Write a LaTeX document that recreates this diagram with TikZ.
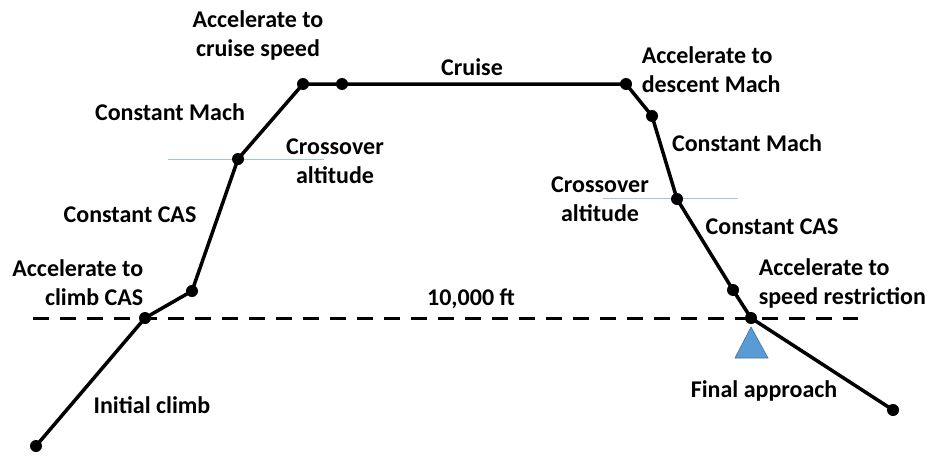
\documentclass[tikz,border=0pt]{standalone}
\usepackage{fontspec}
\setmainfont{Carlito}
\usetikzlibrary{calc}
\usetikzlibrary{arrows}
\definecolor{xoverblue}{HTML}{9DC3E6}
\definecolor{flagfill}{HTML}{5B9BD5}
\definecolor{flagedge}{HTML}{41719C}

\begin{document}
\begin{tikzpicture}[x=1pt,y=-1pt,line width=3.5pt]
        \tikzset{
            lbl/.style={font=\bfseries\fontsize{24}{29}\selectfont,align=center,inner sep=0pt},
            dot/.style={circle,fill=black,inner sep=0pt,minimum size=12pt},
        }
        \useasboundingbox (0,0) rectangle (934,455);
        % flight profile points
        \coordinate (start) at (36,446);
        \coordinate (tenk) at (145,318);
        \coordinate (climbcas) at (192,291);
        \coordinate (xclimb) at (238,159);
        \coordinate (toc) at (303,84);
        \coordinate (cruise) at (342,84);
        \coordinate (tod) at (626,84);
        \coordinate (desmach) at (652,116);
        \coordinate (xdesc) at (677,199);
        \coordinate (speedres) at (733,290);
        \coordinate (faf) at (751,318);
        \coordinate (stop) at (893,410);
        % 10,000 ft line and crossover altitudes
        \draw[dashed,line width=3pt,dash pattern=on 16pt off 11pt] (33,318) -- (858,318);
        \draw[thin,xoverblue] (168,159) -- (324,159);
        \draw[thin,xoverblue] (603,198) -- (738,198);
        \draw[line join=round] (start) -- (tenk) -- (climbcas) -- (xclimb) -- (toc) -- (cruise)
            -- (tod) -- (desmach) -- (xdesc) -- (speedres) -- (faf) -- (stop);
        \foreach \p in {start,tenk,climbcas,xclimb,toc,cruise,tod,desmach,xdesc,speedres,faf,stop}
            \node[dot] at (\p) {};
        % final approach fix marker
        \filldraw[fill=flagfill,draw=flagedge,line width=0.6pt] (751,327) -- (768,358) -- (735,358) -- cycle;
        % labels
        \node[lbl] (lcruisespd) at (258,35) {Accelerate to\\cruise speed};
        \node[lbl] (lmach1) at (170,112) {Constant Mach};
        \node[lbl] (lxover1) at (335,161) {Crossover\\altitude};
        \node[lbl] (lcas1) at (130,215) {Constant CAS};
        \node[lbl,align=right,anchor=east] (lclimbcas) at (145,283) {Accelerate to\\climb CAS};
        \node[lbl] (linit) at (152,405) {Initial climb};
        \node[lbl] (lcruise) at (472,67) {Cruise};
        \node[lbl] (ltenk) at (471,299) {10,000 ft};
        \node[lbl,align=left,anchor=west] (ldesmach) at (640,70) {Accelerate to\\descent Mach};
        \node[lbl] (lmach2) at (747,143) {Constant Mach};
        \node[lbl] (lxover2) at (600,199) {Crossover\\altitude};
        \node[lbl] (lcas2) at (772,227) {Constant CAS};
        \node[lbl,align=left,anchor=west] (lspeedres) at (757,283) {Accelerate to\\speed restriction};
        \node[lbl] (lfinal) at (764,391) {Final approach};
\end{tikzpicture}
\end{document}
